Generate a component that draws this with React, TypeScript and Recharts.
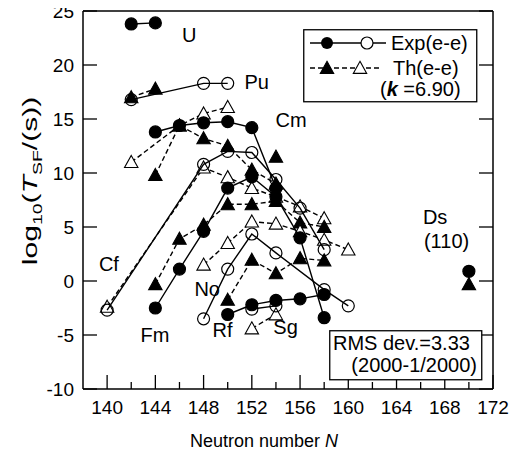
import React from "react";
import { ComposedChart, Scatter, XAxis, YAxis, Legend, Label } from "recharts";

type Pt = [number, number, number]; // [N, log10 T, filled?]

const xTicks = [140, 142, 144, 146, 148, 150, 152, 154, 156, 158, 160, 162, 164, 166, 168, 170, 172];
const yTicks = [-10, -5, 0, 5, 10, 15, 20, 25];

// Experimental (solid lines)
const expU: Pt[] = [[142, 23.8, 1], [144, 23.9, 1]];
const expPu: Pt[] = [[142, 16.8, 0], [148, 18.3, 0], [150, 18.3, 0]];
const expCm: Pt[] = [[144, 13.8, 1], [146, 14.4, 1], [148, 14.65, 1], [150, 14.75, 1], [152, 14.2, 1], [154, 8.6, 1]];
const expCf: Pt[] = [[140, -2.7, 0], [148, 10.8, 0], [150, 12.0, 0], [152, 11.9, 0], [154, 9.4, 0], [156, 6.75, 0], [158, 2.9, 0]];
const expFm: Pt[] = [[144, -2.5, 1], [146, 1.1, 1], [148, 4.6, 1], [150, 8.6, 1], [152, 9.65, 1], [154, 7.8, 1], [156, 4.0, 1], [158, -3.4, 1]];
const expNo: Pt[] = [[148, -3.5, 0], [150, 1.1, 0], [152, 4.35, 0], [154, 2.6, 0], [158, -0.8, 0], [160, -2.3, 0]];
const expRf: Pt[] = [[150, -3.1, 1], [152, -2.2, 1], [154, -1.8, 1], [156, -1.65, 1], [158, -1.25, 1]];
const expSg: Pt[] = [[152, -2.6, 0], [154, -2.3, 0]];
const expDs: Pt[] = [[170, 0.9, 1]];

// Theory (dashed lines)
const thPu: Pt[] = [[142, 17.0, 1], [144, 17.8, 1]];
const thCmA: Pt[] = [[142, 11.0, 0], [146, 14.4, 1], [148, 15.5, 0], [150, 16.1, 0]];
const thCmB: Pt[] = [[144, 9.8, 1], [146, 14.4, 1], [148, 13.2, 1], [150, 12.5, 1], [152, 10.3, 1], [154, 9.0, 1]];
const thCm154: Pt[] = [[154, 11.5, 1]];
const thCf: Pt[] = [[140, -2.4, 0], [148, 10.5, 0], [150, 9.6, 0], [152, 8.6, 0], [154, 7.8, 0], [156, 6.9, 0], [158, 5.8, 0]];
const thFm: Pt[] = [[144, -0.3, 1], [146, 3.9, 1], [148, 5.2, 1], [150, 7.1, 1], [152, 7.1, 1], [154, 7.4, 1], [156, 5.4, 1], [158, 5.0, 1]];
const thNo: Pt[] = [[148, 1.5, 0], [150, 3.5, 0], [152, 5.5, 0], [154, 5.3, 0], [156, 4.6, 0], [158, 3.8, 0], [160, 2.9, 0]];
const thRf: Pt[] = [[150, -1.75, 1], [152, 1.95, 1], [154, 0.7, 1], [156, 2.1, 1], [158, 1.9, 1]];
const thSg: Pt[] = [[152, -4.4, 0], [154, -3.1, 0]];
const thDs: Pt[] = [[170, -0.3, 1]];

// Element labels
const labelText = ["U", "Pu", "Cm", "Cf", "Fm", "No", "Rf", "Sg", "Ds", "(110)"];
const labelN = [146.8, 152.4, 155.25, 140.15, 143.97, 148.3, 149.57, 154.8, 167.2, 168.15];
const labelV = [22.8, 18.4, 14.9, 1.6, -5.0, -0.7, -4.5, -4.2, 5.9, 3.7];

const FONT = '"Liberation Sans", Arial, Helvetica, sans-serif';

const toData = (a: Pt[]) => a.map(([x, y, f]) => ({ x, y, f }));
const labelData = labelText.map((t, i) => ({ x: labelN[i], y: labelV[i], t }));

const tri = (cx: number, cy: number, s: number) =>
  `${cx},${cy - s} ${cx + s},${cy + s * 0.8} ${cx - s},${cy + s * 0.8}`;

const CircleMark = (p: any) => {
  const { cx, cy, payload } = p;
  const filled = payload.f === 1;
  return (
    <circle cx={cx} cy={cy} r={6} fill={filled ? "#000" : "none"} stroke="#000" strokeWidth={1.2} />
  );
};

const TriMark = (p: any) => {
  const { cx, cy, payload } = p;
  const filled = payload.f === 1;
  return <polygon points={tri(cx, cy, 6.7)} fill={filled ? "#000" : "#fff"} stroke="#000" strokeWidth={1.1} />;
};

const TextMark = (p: any) => {
  const { cx, cy, payload } = p;
  return (
    <text x={cx} y={cy} dy="0.36em" textAnchor="middle" fontSize={20} fontFamily={FONT} fill="#000">
      {payload.t}
    </text>
  );
};

const BottomTick = (p: any) => {
  const { x, y, payload } = p;
  const major = (payload.value - 140) % 4 === 0;
  return (
    <g>
      <line x1={x} x2={x} y1={y} y2={y - (major ? 14 : 7)} stroke="#000" strokeWidth={1.3} />
      {major && (
        <text x={x} y={y + 25} textAnchor="middle" fontSize={19} fontFamily={FONT} fill="#000">
          {payload.value}
        </text>
      )}
    </g>
  );
};

const TopTick = (p: any) => {
  const { x, y, payload } = p;
  const major = (payload.value - 140) % 4 === 0;
  return <line x1={x} x2={x} y1={y} y2={y + (major ? 14 : 7)} stroke="#000" strokeWidth={1.3} />;
};

const LeftTick = (p: any) => {
  const { x, y, payload } = p;
  return (
    <g>
      <line x1={x} x2={x + 14} y1={y} y2={y} stroke="#000" strokeWidth={1.3} />
      <text x={x - 9} y={y + 7} textAnchor="end" fontSize={19} fontFamily={FONT} fill="#000">
        {payload.value}
      </text>
    </g>
  );
};

const RightTick = (p: any) => {
  const { x, y } = p;
  return <line x1={x} x2={x - 14} y1={y} y2={y} stroke="#000" strokeWidth={1.3} />;
};

const XTitle = (p: any) => {
  const vb = p.viewBox;
  return (
    <text x={vb.x + vb.width / 2 - 24} y={vb.y + 58} textAnchor="middle" fontSize={18} fontFamily={FONT} fill="#000">
      Neutron number <tspan fontStyle="italic">N</tspan>
    </text>
  );
};

const YTitle = (p: any) => {
  const vb = p.viewBox;
  const cx = vb.x + 22;
  const cy = vb.y + vb.height / 2 - 19;
  return (
    <text
      transform={`translate(${cx} ${cy}) rotate(-90) scale(1.5 1)`}
      x={0}
      y={0}
      dy="0.35em"
      textAnchor="middle"
      fontSize={20}
      fontFamily={FONT}
      fill="#000"
    >
      log<tspan fontSize={13} dy={5}>10</tspan>
      <tspan dy={-5}>(</tspan>
      <tspan fontStyle="italic">T</tspan>
      <tspan fontSize={13} dy={5}>SF</tspan>
      <tspan dy={-5}>/(s))</tspan>
    </text>
  );
};

const LegendBox = () => (
  <svg width={176} height={75} style={{ display: "block" }}>
    <rect x={0.75} y={0.75} width={173} height={72} fill="#fff" stroke="#000" strokeWidth={1.3} />
    <line x1={7} x2={83} y1={14} y2={14} stroke="#000" strokeWidth={1.4} />
    <circle cx={24} cy={14} r={6} fill="#000" />
    <circle cx={64} cy={14} r={6} fill="#fff" stroke="#000" strokeWidth={1.2} />
    <text x={88} y={21} fontSize={20} fontFamily={FONT} fill="#000">Exp(e-e)</text>
    <line x1={7} x2={77} y1={39} y2={39} stroke="#000" strokeWidth={1.4} strokeDasharray="5 3" />
    <polygon points={tri(24, 39, 6.7)} fill="#000" stroke="#000" strokeWidth={1.1} />
    <polygon points={tri(57, 39, 6.7)} fill="#fff" stroke="#000" strokeWidth={1.1} />
    <text x={90} y={46} fontSize={20} fontFamily={FONT} fill="#000">Th(e-e)</text>
    <text x={77} y={67} fontSize={20} fontFamily={FONT} fill="#000">
      (<tspan fontWeight="bold" fontStyle="italic">k</tspan> =6.90)
    </text>
  </svg>
);

const expLine = { stroke: "#000", strokeWidth: 1.4, fill: "none" };
const thLine = { stroke: "#000", strokeWidth: 1.4, strokeDasharray: "5 3", fill: "none" };

const theorySeries = [thPu, thCmA, thCmB, thCm154, thCf, thFm, thNo, thRf, thSg, thDs];
const expSeries = [expU, expPu, expCm, expCf, expFm, expNo, expRf, expSg, expDs];

export default function App() {
  return (
    <div style={{ position: "relative", width: 509, height: 456, marginTop: -8 }}>
      <ComposedChart width={509} height={456} margin={{ top: 10, right: 23, bottom: 7, left: 0 }}>
        <XAxis
          xAxisId={0}
          type="number"
          dataKey="x"
          domain={[138, 172]}
          ticks={xTicks}
          interval={0}
          allowDataOverflow
          height={60}
          tickLine={false}
          tickSize={0}
          tickMargin={0}
          tick={BottomTick}
          axisLine={{ stroke: "#000", strokeWidth: 1.5 }}
        >
          <Label content={XTitle} />
        </XAxis>
        <XAxis
          xAxisId="top"
          orientation="top"
          type="number"
          domain={[138, 172]}
          ticks={xTicks}
          interval={0}
          allowDataOverflow
          height={1}
          tickLine={false}
          tickSize={0}
          tickMargin={0}
          tick={TopTick}
          axisLine={{ stroke: "#000", strokeWidth: 1.5 }}
        />
        <YAxis
          yAxisId={0}
          type="number"
          dataKey="y"
          domain={[-10, 25]}
          ticks={yTicks}
          interval={0}
          allowDataOverflow
          width={75}
          tickLine={false}
          tickSize={0}
          tickMargin={0}
          tick={LeftTick}
          axisLine={{ stroke: "#000", strokeWidth: 1.5 }}
        >
          <Label content={YTitle} />
        </YAxis>
        <YAxis
          yAxisId="r"
          orientation="right"
          type="number"
          domain={[-10, 25]}
          ticks={yTicks}
          interval={0}
          allowDataOverflow
          width={1}
          tickLine={false}
          tickSize={0}
          tickMargin={0}
          tick={RightTick}
          axisLine={{ stroke: "#000", strokeWidth: 1.5 }}
        />
        {theorySeries.map((s, i) => (
          <Scatter
            key={"th" + i}
            data={toData(s)}
            line={thLine}
            lineType="joint"
            shape={TriMark}
            fill="#000"
            isAnimationActive={false}
          />
        ))}
        {expSeries.map((s, i) => (
          <Scatter
            key={"ex" + i}
            data={toData(s)}
            line={expLine}
            lineType="joint"
            shape={CircleMark}
            fill="#000"
            isAnimationActive={false}
          />
        ))}
        <Scatter data={labelData} shape={TextMark} fill="#000" isAnimationActive={false} />
        <Legend
          layout="horizontal"
          verticalAlign="middle"
          align="center"
          content={() => <LegendBox />}
          wrapperStyle={{ position: "absolute", left: 295, top: 29, width: 176, height: 75 }}
        />
      </ComposedChart>
      <svg
        width={154}
        height={51}
        style={{ position: "absolute", left: 321, top: 330, display: "block" }}
      >
        <rect x={0.75} y={0.75} width={152} height={49} fill="#fff" stroke="#000" strokeWidth={1.3} />
        <text x={4} y={20} fontSize={20} fontFamily={FONT} fill="#000">RMS dev.=3.33</text>
        <text x={148} y={42} textAnchor="end" fontSize={20} fontFamily={FONT} fill="#000">(2000-1/2000)</text>
      </svg>
    </div>
  );
}
